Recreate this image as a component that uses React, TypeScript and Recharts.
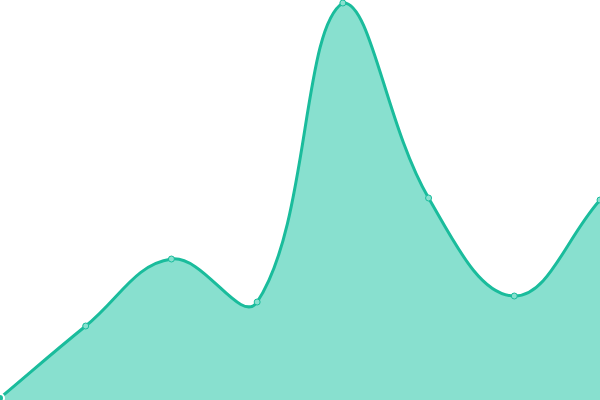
import { AreaChart, Area, XAxis, YAxis } from 'recharts';

// categories and values
const categories = ['A', 'B', 'C', 'D', 'E', 'F', 'G', 'H'];
const values = [2, 74, 141, 98, 397, 202, 104, 200];

const data = categories.map((name, i) => ({ name, value: values[i] }));

const WIDTH = 600;
const HEIGHT = 400;
const TENSION = 0.4;

// spline like the one in the reference: control points from neighbours,
// scaled by distance, kept inside the plot
const clamp = (v: number, lo: number, hi: number) => Math.max(lo, Math.min(hi, v));

const drawSpline = (ctx: any, pts: number[][], line: number) => {
    if (!pts.length) return;
    const [x0, y0] = pts[0];
    if (line) ctx.lineTo(x0, y0);
    else ctx.moveTo(x0, y0);
    if (pts.length === 1) return;

    const ctrl = pts.map((cur, i) => {
        const prev = i > 0 ? pts[i - 1] : cur;
        const next = i < pts.length - 1 ? pts[i + 1] : cur;
        const d01 = Math.hypot(cur[0] - prev[0], cur[1] - prev[1]);
        const d12 = Math.hypot(next[0] - cur[0], next[1] - cur[1]);
        const sum = d01 + d12;
        const fa = sum ? (TENSION * d01) / sum : 0;
        const fb = sum ? (TENSION * d12) / sum : 0;
        const dx = next[0] - prev[0];
        const dy = next[1] - prev[1];
        return {
            px: clamp(cur[0] - fa * dx, 0, WIDTH),
            py: clamp(cur[1] - fa * dy, 0, HEIGHT),
            nx: clamp(cur[0] + fb * dx, 0, WIDTH),
            ny: clamp(cur[1] + fb * dy, 0, HEIGHT),
        };
    });

    for (let i = 1; i < pts.length; i++) {
        const a = ctrl[i - 1];
        const b = ctrl[i];
        ctx.bezierCurveTo(a.nx, a.ny, b.px, b.py, pts[i][0], pts[i][1]);
    }
};

const splineCurve = (context: any) => {
    let pts: number[][] = [];
    let line = NaN;
    return {
        areaStart() { line = 0; },
        areaEnd() { line = NaN; },
        lineStart() { pts = []; },
        lineEnd() {
            drawSpline(context, pts, line);
            if (line || (line !== 0 && pts.length === 1)) context.closePath();
            line = 1 - line;
        },
        point(x: number, y: number) { pts.push([+x, +y]); },
    };
};

const App = () => {
    return (
        <div style={{ position: 'fixed', top: 0, left: 0, width: WIDTH, height: HEIGHT, background: '#fff' }}>
            <AreaChart width={WIDTH} height={HEIGHT} data={data} margin={{ top: 0, right: 0, bottom: 0, left: 0 }}>
                <XAxis dataKey="name" hide />
                <YAxis hide domain={[0, 400]} />
                <Area
                    type={splineCurve as any}
                    dataKey="value"
                    stroke="#1abc9c"
                    strokeWidth={3}
                    fill="#88e0cf"
                    fillOpacity={1}
                    dot={{ r: 3, fill: '#88e0cf', stroke: '#1abc9c', strokeWidth: 1, fillOpacity: 1 }}
                    isAnimationActive={false}
                />
            </AreaChart>
        </div>
    );
};

export default App;
